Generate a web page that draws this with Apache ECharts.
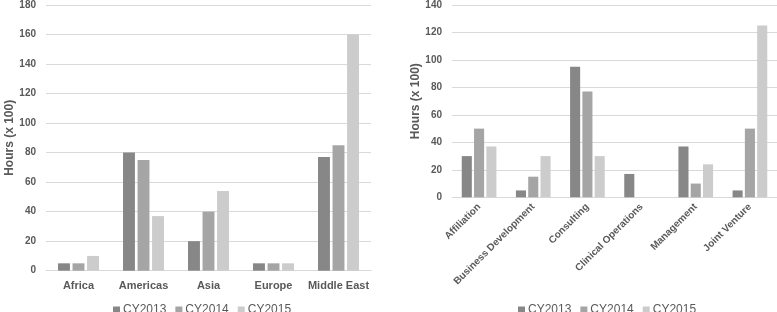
<!DOCTYPE html>
<html>
<head>
<meta charset="utf-8">
<script src="https://cdn.jsdelivr.net/npm/echarts@6/dist/echarts.min.js"></script>
<style>html,body{margin:0;padding:0;background:#fff}#c{width:777px;height:312px}</style>
</head>
<body>
<div id="c"></div>
<script>
const seriesNames = ['CY2013', 'CY2014', 'CY2015'];
const regions = ['Africa', 'Americas', 'Asia', 'Europe', 'Middle East'];
const regionCY2013 = [5, 80, 20, 5, 77];
const regionCY2014 = [5, 75, 40, 5, 85];
const regionCY2015 = [10, 37, 54, 5, 160];
const activities = ['Affiliation', 'Business Development', 'Consulting', 'Clinical Operations', 'Management', 'Joint Venture'];
const activityCY2013 = [30, 5, 95, 17, 37, 5];
const activityCY2014 = [50, 15, 77, 0, 10, 50];
const activityCY2015 = [37, 30, 30, 0, 24, 125];
const yTitle = 'Hours (x 100)';

const colors = ['#878787', '#a5a5a5', '#cccccc'];
const font = 'Liberation Sans, Arial, sans-serif';
const txt = '#595959';

const chart = echarts.init(document.getElementById('c'), null, {renderer: 'canvas'});
function bars(data, idx, gap) {
  return data.map((d, i) => ({
    name: seriesNames[i], type: 'bar', xAxisIndex: idx, yAxisIndex: idx,
    data: d, barGap: '22%', barCategoryGap: gap,
    itemStyle: {color: colors[i]}, animation: false
  }));
}
function yAx(idx, max, gap) {
  return {
    gridIndex: idx, type: 'value', min: 0, max: max, interval: 20,
    name: yTitle, nameLocation: 'middle', nameGap: gap,
    nameTextStyle: {fontFamily: font, fontSize: 12, fontWeight: 'bold', color: txt},
    axisLabel: {fontFamily: font, fontSize: 10, fontWeight: 'bold', color: txt, margin: 10},
    axisLine: {show: false}, axisTick: {show: false},
    splitLine: {lineStyle: {color: '#d9d9d9', width: 1}}
  };
}
const legendCommon = {
  data: seriesNames, itemWidth: 7, itemHeight: 7, itemGap: 9, icon: 'rect',
  textStyle: {fontFamily: font, fontSize: 12, color: txt, padding: [0, 0, 0, -2]}
};
chart.setOption({
  color: colors,
  legend: [
    Object.assign({left: 108, top: 299}, legendCommon),
    Object.assign({left: 513, top: 299}, legendCommon)
  ],
  grid: [
    {left: 46, right: 406, top: 4.3, bottom: 41.3},
    {left: 452, right: 0, top: 4, bottom: 114.7}
  ],
  xAxis: [
    {gridIndex: 0, type: 'category', data: regions,
     axisLine: {lineStyle: {color: '#d9d9d9'}}, axisTick: {show: false},
     axisLabel: {fontFamily: font, fontSize: 11, fontWeight: 'bold', color: txt, margin: 10, interval: 0, hideOverlap: false}},
    {gridIndex: 1, type: 'category', data: activities,
     axisLine: {lineStyle: {color: '#d9d9d9'}}, axisTick: {show: false},
     axisLabel: {fontFamily: font, fontSize: 10, fontWeight: 'bold', color: txt, rotate: 45, margin: 8, interval: 0, hideOverlap: false}}
  ],
  yAxis: [yAx(0, 180, 30), yAx(1, 140, 29)],
  series: [].concat(
    bars([regionCY2013, regionCY2014, regionCY2015], 0, '37%'),
    bars([activityCY2013, activityCY2014, activityCY2015], 1, '36%')
  )
});
</script>
</body>
</html>
